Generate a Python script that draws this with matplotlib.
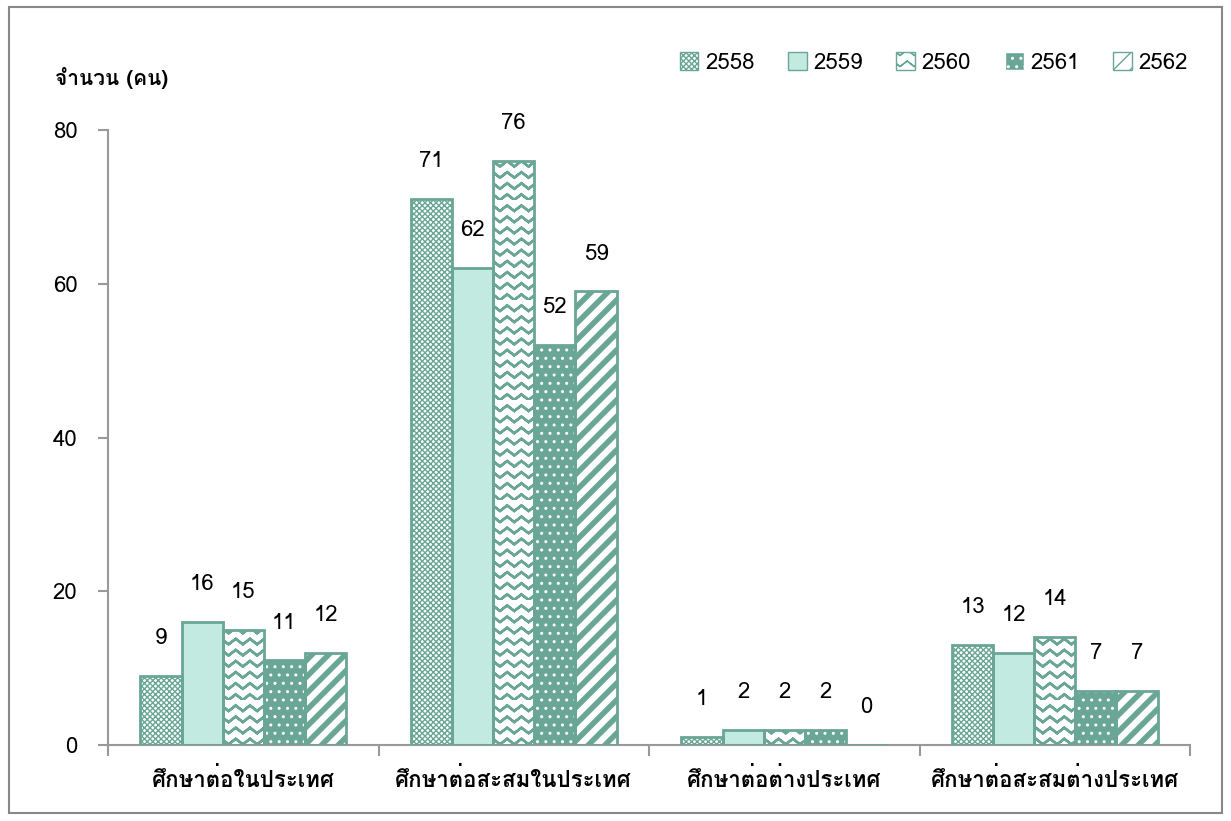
import matplotlib
matplotlib.use("Agg")
import matplotlib.pyplot as plt
from matplotlib import font_manager
from matplotlib.ft2font import FT2Font
import matplotlib.hatch as mhatch
from matplotlib.path import Path
from matplotlib.patches import Rectangle
import numpy as np

# data
categories = ["ศึกษาต่อในประเทศ", "ศึกษาต่อสะสมในประเทศ", "ศึกษาต่อต่างประเทศ", "ศึกษาต่อสะสมต่างประเทศ"]
years = ["2558", "2559", "2560", "2561", "2562"]
v2558 = [9, 71, 1, 13]
v2559 = [16, 62, 2, 12]
v2560 = [15, 76, 2, 14]
v2561 = [11, 52, 2, 7]
v2562 = [12, 59, 0, 7]
yticks = [0, 20, 40, 60, 80]

TEAL = "#6aa695"
LIGHT = "#c3eae0"


# pick an installed font that has Thai glyphs
def thai_font():
    for f in font_manager.fontManager.ttflist:
        try:
            if 0x0E28 in FT2Font(f.fname).get_charmap():
                return [f.name]
        except Exception:
            pass
    return []

plt.rcParams["font.family"] = thai_font() + ["DejaVu Sans"]


# zigzag hatch, triggered by "z" (each line is a thin closed band, since hatches get filled)
class ZigZag(mhatch.HatchPatternBase):
    periods = 7

    def __init__(self, hatch, density):
        self.num_lines = int(hatch.count("z") * density * 1.5)
        self.npts = 2 * self.periods + 1
        self.num_vertices = self.num_lines * (2 * self.npts + 1)

    def set_vertices_and_codes(self, vertices, codes):
        if self.num_lines == 0:
            return
        step = 1.0 / self.num_lines
        n = self.npts
        xs = np.linspace(0, 1, n)
        k = 0
        for i in range(self.num_lines):
            y = i * step
            ys = y + np.where(np.arange(n) % 2 == 1, step * 0.5, 0.0)
            for j in range(n):
                vertices[k] = (xs[j], ys[j])
                codes[k] = Path.MOVETO if j == 0 else Path.LINETO
                k += 1
            for j in range(n - 1, -1, -1):
                vertices[k] = (xs[j], ys[j] + 0.002)
                codes[k] = Path.LINETO
                k += 1
            vertices[k] = (xs[0], ys[0])
            codes[k] = Path.CLOSEPOLY
            k += 1

mhatch._hatch_types.append(ZigZag)

fig = plt.figure(figsize=(12.31, 8.21), dpi=100)
ax = fig.add_axes([108 / 1231, 76 / 821, 1082 / 1231, 615 / 821])

x = np.arange(len(categories))
w = 0.152
offs = [-2 * w, -w, 0, w, 2 * w]
series = [v2558, v2559, v2560, v2561, v2562]

styles = [
    dict(face="white", hcolor=TEAL, hatch="xxxxxx", hlw=1.0),
    dict(face=LIGHT, hcolor=None, hatch=None, hlw=1.0),
    dict(face="white", hcolor=TEAL, hatch="z", hlw=1.8),
    dict(face=TEAL, hcolor="white", hatch="..", hlw=1.0),
    dict(face="white", hcolor=TEAL, hatch="//", hlw=4.0),
]

handles = []
for k, vals in enumerate(series):
    st = styles[k]
    with plt.rc_context({"hatch.linewidth": st["hlw"]}):
        if st["hatch"]:
            ax.bar(x + offs[k], vals, w, color=st["face"], edgecolor=st["hcolor"],
                   hatch=st["hatch"], linewidth=0, zorder=2)
        else:
            ax.bar(x + offs[k], vals, w, color=st["face"], linewidth=0, zorder=2)
    bars = ax.bar(x + offs[k], vals, w, color="none", edgecolor=TEAL, linewidth=2, zorder=3)
    for b, v in zip(bars, vals):
        ax.text(b.get_x() + b.get_width() / 2, v + 3.5, str(v), ha="center", va="bottom",
                fontsize=16, color="black")
    with plt.rc_context({"hatch.linewidth": st["hlw"]}):
        h = Rectangle((0, 0), 1, 1, facecolor=st["face"],
                      edgecolor=st["hcolor"] if st["hatch"] else TEAL,
                      hatch=st["hatch"], linewidth=1)
    handles.append(h)

ax.set_xlim(-0.5, len(categories) - 0.5)
ax.set_ylim(0, 80)
ax.set_yticks(yticks)
ax.set_yticklabels([str(t) for t in yticks], fontsize=16)
ax.set_xticks(x)
ax.set_xticklabels(categories, fontsize=16, fontweight="bold")
ax.tick_params(axis="x", length=0, pad=16)
ax.set_xticks(np.arange(len(categories) + 1) - 0.5, minor=True)
ax.tick_params(axis="x", which="minor", length=8, color="#999999", width=1.5)
ax.tick_params(axis="y", length=7, color="#999999", width=1.5, pad=15)
for s in ["top", "right"]:
    ax.spines[s].set_visible(False)
for s in ["left", "bottom"]:
    ax.spines[s].set_color("#999999")
    ax.spines[s].set_linewidth(1.5)

fig.text(55 / 1231, 1 - 78 / 821, "จำนวน (คน)", fontsize=15, fontweight="bold", va="center")

fig.legend(handles, years, loc="upper right", bbox_to_anchor=(1208 / 1231, 1 - 32 / 821),
           ncol=5, frameon=False, fontsize=16, handlelength=0.85, handleheight=0.85,
           columnspacing=1.5, handletextpad=0.3)

fig.patches.append(Rectangle((9 / 1231, 8 / 821), 1213 / 1231, 806 / 821, transform=fig.transFigure,
                             fill=False, edgecolor="#888888", linewidth=1.5))

fig.savefig("out.png", dpi=100)
